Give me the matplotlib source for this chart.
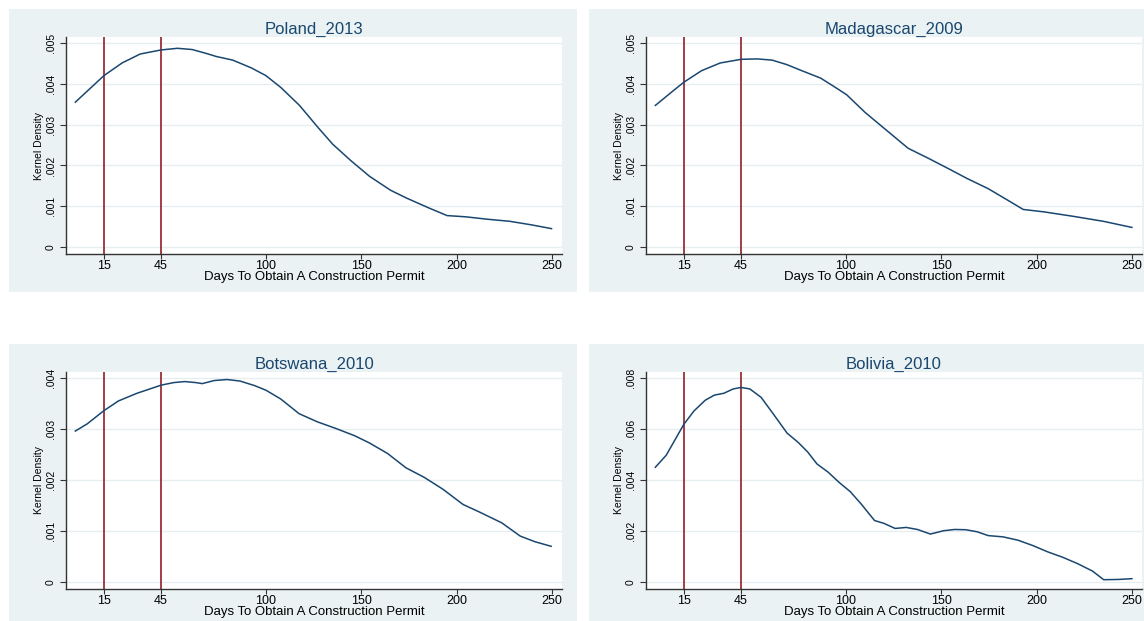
import numpy as np
import matplotlib.pyplot as plt
from matplotlib.patches import Rectangle

plt.rcParams['font.family'] = ['Liberation Sans', 'DejaVu Sans']

W, H = 1144, 621

titles = ["Poland_2013", "Madagascar_2009", "Botswana_2010", "Bolivia_2010"]

# kernel density curves (days, density x 1000)
poland_x = [0, 15, 24.5, 34, 45, 53.6, 61.3, 69, 73.9, 82.6, 92.3, 100, 107.8, 117.6, 127.3,
            135, 144.7, 154.4, 165.4, 173.7, 185.3, 195, 204.7, 216.3, 227.9, 239.6, 249.8]
poland_y = [3.55, 4.20, 4.51, 4.73, 4.83, 4.87, 4.84, 4.74, 4.67, 4.58, 4.39, 4.20, 3.91, 3.47, 2.93,
            2.52, 2.11, 1.73, 1.39, 1.20, 0.96, 0.77, 0.74, 0.68, 0.63, 0.54, 0.45]

madagascar_x = [0, 8.6, 15, 24.2, 34, 45, 53.5, 61.3, 69, 76.9, 86.7, 94.5, 100.4, 110, 120,
                132.6, 143.4, 155, 163.5, 174.6, 184.4, 193, 204, 219.5, 235, 250]
madagascar_y = [3.47, 3.80, 4.04, 4.32, 4.51, 4.60, 4.61, 4.58, 4.47, 4.32, 4.14, 3.91, 3.73, 3.30, 2.91,
                2.42, 2.17, 1.89, 1.68, 1.43, 1.16, 0.92, 0.86, 0.75, 0.63, 0.48]

botswana_x = [0, 6.2, 15, 22.6, 32.3, 45, 51.6, 57.4, 63.2, 66.6, 72.8, 79.6, 86.4, 94.1, 100,
              107.7, 117.4, 127, 136.7, 146.4, 154.1, 163.8, 173.4, 183.1, 192.8, 203.4, 212.1,
              223.7, 233.4, 241.1, 249.6]
botswana_y = [2.96, 3.10, 3.36, 3.55, 3.70, 3.86, 3.91, 3.93, 3.91, 3.89, 3.95, 3.97, 3.94, 3.85, 3.76,
              3.59, 3.30, 3.14, 3.01, 2.87, 2.73, 2.52, 2.24, 2.05, 1.82, 1.52, 1.37,
              1.16, 0.90, 0.79, 0.70]

bolivia_x = [0, 5.7, 10.5, 15, 20.3, 26.2, 31, 35.9, 40.8, 45, 49.6, 55.5, 61.3, 69.1, 75, 79.9,
             84.8, 90.6, 96.5, 102.3, 108.2, 115, 119.9, 125.8, 131.6, 137.5, 144.3, 151.2, 157,
             162.9, 168.8, 174.6, 182.4, 190.2, 198, 205.9, 213.7, 221.5, 229.3, 235.2, 243, 250]
bolivia_y = [4.50, 4.97, 5.60, 6.19, 6.71, 7.13, 7.33, 7.40, 7.57, 7.63, 7.57, 7.24, 6.65, 5.84, 5.47, 5.10,
             4.63, 4.31, 3.90, 3.54, 3.04, 2.41, 2.30, 2.10, 2.14, 2.06, 1.88, 2.01, 2.06,
             2.05, 1.97, 1.82, 1.77, 1.64, 1.43, 1.18, 0.97, 0.72, 0.43, 0.09, 0.10, 0.13]

curves = [(poland_x, poland_y), (madagascar_x, madagascar_y),
          (botswana_x, botswana_y), (bolivia_x, bolivia_y)]
y_top = [0.005, 0.005, 0.004, 0.008]
y_step = [0.001, 0.001, 0.001, 0.002]
x_ticks = [15, 45, 100, 150, 200, 250]
cutoffs = [15, 45]

BG = "#EAF2F3"
NAVY = "#1A476F"
RED = "#9A2F38"


def frac(x0, y0, x1, y1):
    return [x0 / W, 1 - y1 / H, (x1 - x0) / W, (y1 - y0) / H]


def ylab(v):
    return "0" if v == 0 else ("%.3f" % v).lstrip("0")


fig = plt.figure(figsize=(W / 100, H / 100), dpi=100, facecolor="white")

offsets = [(0, 0), (580, 0), (0, 335), (580, 335)]
for i, (dx, dy) in enumerate(offsets):
    bg = Rectangle(((9 + dx) / W, 1 - (292 + dy) / H), 568 / W, 283 / H,
                   transform=fig.transFigure, facecolor=BG, edgecolor="none", zorder=-5)
    fig.patches.append(bg)

    ax = fig.add_axes(frac(66 + dx, 37 + dy, 562 + dx, 254 + dy))
    ax.set_facecolor("white")
    x, y = curves[i]
    ax.plot(x, np.array(y) / 1000, color=NAVY, lw=1.1, zorder=3)
    for c in cutoffs:
        ax.axvline(c, color=RED, lw=1.3, zorder=2)

    top = y_top[i]
    ax.set_xlim(-4.9, 255.3)
    ax.set_ylim(-top * 7 / 204, top * (1 + 6 / 204))
    yt = np.arange(0, top + y_step[i] / 2, y_step[i])
    ax.set_yticks(yt)
    ax.set_yticklabels([ylab(round(v, 3)) for v in yt], rotation=90, va="center", fontsize=7.5)
    ax.set_xticks(x_ticks)
    ax.set_xticklabels([str(t) for t in x_ticks], fontsize=9)
    ax.grid(axis="y", color="#E6EEF0", lw=1, zorder=1)
    ax.set_axisbelow(True)

    for s in ["top", "right"]:
        ax.spines[s].set_visible(False)
    for s in ["left", "bottom"]:
        ax.spines[s].set_color("#333333")
        ax.spines[s].set_linewidth(1)
    ax.tick_params(axis="y", length=4.5, width=0.8, color="#333333", pad=3)
    ax.tick_params(axis="x", length=3.5, width=0.8, color="#333333", pad=1)

    ax.set_title(titles[i], fontsize=12, color=NAVY, pad=2.5)
    ax.set_xlabel("Days To Obtain A Construction Permit", fontsize=9.5, labelpad=-1)
    ax.set_ylabel("Kernel Density", fontsize=7.5, labelpad=1)

fig.savefig("out.png", dpi=100, facecolor="white")
